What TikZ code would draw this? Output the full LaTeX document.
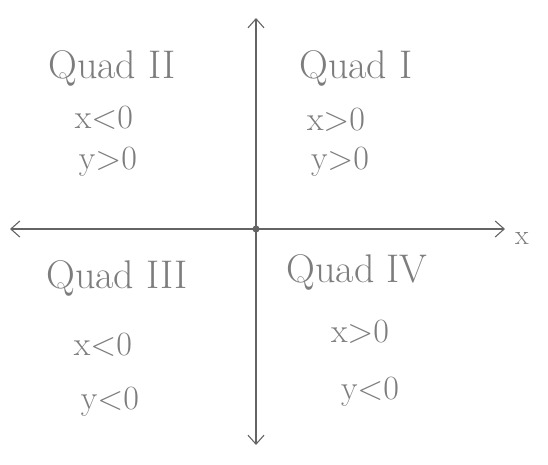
\documentclass[tikz,border=0pt]{standalone}
\usepackage{fontspec}
\usepackage{tikz}
\usetikzlibrary{arrows.meta,positioning}
\definecolor{pencilGray}{RGB}{100,100,100}
\definecolor{textGray}{RGB}{125,125,125}

\begin{document}
\begin{tikzpicture}[
  x=1pt, y=-1pt,
  axis/.style={line width=1.1pt, pencilGray,
               {Straight Barb[length=9pt,width=16pt]}-{Straight Barb[length=9pt,width=16pt]}},
  quad/.style={text=textGray, font=\fontsize{40}{46}\selectfont, inner sep=0pt},
  cond/.style={text=textGray, font=\fontsize{34}{40}\selectfont, inner sep=0pt}
]
  \useasboundingbox (0,0) rectangle (548,465);
  % axes
  \coordinate (xl) at (10,229);
  \coordinate (xr) at (505,229);
  \coordinate (yt) at (256,18);
  \coordinate (yb) at (256,445);
  \node[circle, fill=pencilGray, inner sep=2.5pt] (O) at (256,229) {};
  \draw[axis] (xl) -- (xr);
  \draw[axis] (yb) -- (yt);
  \node[cond, font=\fontsize{28}{32}\selectfont] (xlab) at (522,238) {x};
  % quadrant I
  \node[quad] (q1) at (356,68) {Quad I};
  \node[cond] (q1x) at (336,120) {x>0};
  \node[cond] (q1y) at (340,162) {y>0};
  % quadrant II
  \node[quad] (q2) at (112,68) {Quad II};
  \node[cond] (q2x) at (104,118) {x<0};
  \node[cond] (q2y) at (108,162) {y>0};
  % quadrant III
  \node[quad] (q3) at (117,278) {Quad III};
  \node[cond] (q3x) at (103,345) {x<0};
  \node[cond] (q3y) at (110,402) {y<0};
  % quadrant IV
  \node[quad] (q4) at (357,272) {Quad IV};
  \node[cond] (q4x) at (360,332) {x>0};
  \node[cond] (q4y) at (370,392) {y<0};
\end{tikzpicture}
\end{document}
